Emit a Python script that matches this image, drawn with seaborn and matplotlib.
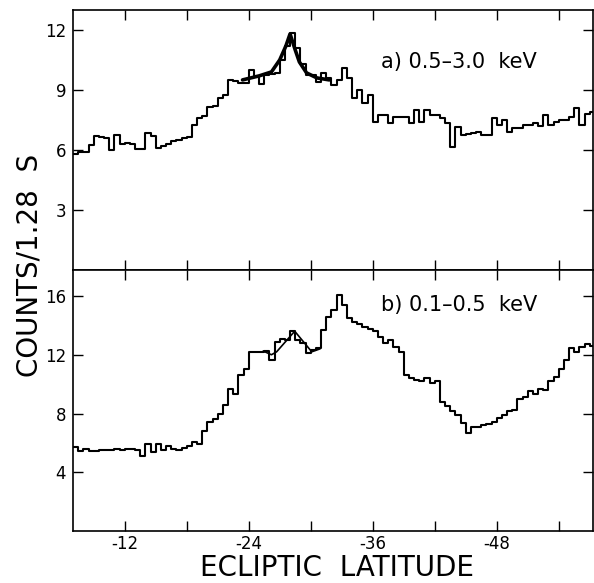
import numpy as np
import pandas as pd
import matplotlib
matplotlib.use("Agg")
import matplotlib.pyplot as plt
import seaborn as sns
from matplotlib.ticker import FixedLocator

# scan binning in ecliptic latitude (deg)
lat_start = -7.0
bin_width = 0.5

# a) 0.5-3.0 keV, counts / 1.28 s per bin
counts_hard = [
    5.8, 5.9, 5.9, 6.25, 6.7, 6.65, 6.6, 6.0, 6.75, 6.3,
    6.35, 6.3, 6.05, 6.05, 6.85, 6.7, 6.1, 6.2, 6.3, 6.45,
    6.5, 6.6, 6.65, 7.25, 7.6, 7.7, 8.15, 8.2, 8.6, 8.75,
    9.5, 9.45, 9.35, 9.35, 10.0, 9.7, 9.3, 9.75, 9.8, 9.85,
    10.5, 11.2, 11.85, 11.1, 10.3, 9.75, 9.75, 9.4, 9.85, 9.6,
    9.25, 9.5, 10.1, 9.6, 8.6, 9.0, 8.35, 8.75, 7.4, 7.75,
    7.75, 7.35, 7.65, 7.65, 7.65, 7.35, 8.0, 7.4, 8.0, 7.75,
    7.75, 7.6, 7.35, 6.15, 7.15, 6.75, 6.8, 6.85, 6.9, 6.75,
    6.75, 7.6, 7.25, 7.5, 6.9, 7.1, 7.1, 7.25, 7.25, 7.35,
    7.2, 7.75, 7.25, 7.4, 7.5, 7.5, 7.65, 8.1, 7.25, 7.8,
    7.9,
]

# b) 0.1-0.5 keV
counts_soft = [
    5.7, 5.45, 5.6, 5.45, 5.45, 5.55, 5.55, 5.55, 5.6, 5.5,
    5.6, 5.6, 5.55, 5.1, 5.95, 5.35, 5.95, 5.5, 5.8, 5.6,
    5.55, 5.65, 5.8, 6.05, 5.95, 6.8, 7.45, 7.65, 8.0, 8.6,
    9.7, 9.35, 10.6, 11.0, 12.2, 12.2, 12.2, 12.25, 11.65, 12.9,
    13.1, 13.0, 13.6, 13.0, 12.8, 12.1, 12.3, 12.45, 13.7, 14.6,
    15.05, 16.05, 15.4, 14.5, 14.2, 14.1, 13.9, 13.75, 13.6, 13.2,
    12.8, 13.0, 12.55, 12.2, 10.65, 10.45, 10.3, 10.2, 10.45, 10.1,
    10.2, 8.8, 8.5, 8.15, 7.9, 7.35, 6.7, 7.1, 7.1, 7.2,
    7.3, 7.45, 7.7, 7.9, 8.15, 8.25, 9.0, 9.1, 9.5, 9.3,
    9.7, 9.6, 10.2, 10.5, 11.0, 11.65, 12.45, 12.2, 12.55, 12.75,
    12.6,
]

# model fits over the source
fit_hard_lat = [-23.4, -25.0, -26.2, -27.0, -27.6, -28.0, -28.5, -28.9, -29.6, -30.6, -31.8]
fit_hard_val = [9.5, 9.7, 9.9, 10.5, 11.2, 11.8, 11.0, 10.4, 9.85, 9.6, 9.5]
fit_soft_lat = [-25.4, -26.2, -26.7, -28.45, -30.1, -30.9]
fit_soft_val = [12.25, 12.0, 12.2, 13.6, 12.2, 12.4]

panel_labels = ["a) 0.5\u20133.0  keV", "b) 0.1\u20130.5  keV"]
yticks_hard = [3, 6, 9, 12]
yticks_soft = [4, 8, 12, 16]
xticks_major = [-12, -24, -36, -48]
xticks_minor = [-18, -30, -42, -54]


def step_frame(counts):
    n = len(counts)
    edges = lat_start - bin_width * np.arange(n + 1)
    vals = list(counts) + [counts[-1]]
    return pd.DataFrame({"lat": edges, "counts": vals})


sns.set_style("ticks")
plt.rcParams["font.family"] = ["DejaVu Sans"]
plt.rcParams["xtick.direction"] = "in"
plt.rcParams["ytick.direction"] = "in"
for k in ["text.color", "axes.labelcolor", "xtick.color", "ytick.color", "axes.edgecolor"]:
    plt.rcParams[k] = "black"

fig = plt.figure(figsize=(5.94, 5.83), dpi=100)
left, right = 0.123, 0.998
ax1 = fig.add_axes([left, 0.537, right - left, 0.983 - 0.537])
ax2 = fig.add_axes([left, 0.089, right - left, 0.537 - 0.089], sharex=ax1)

for ax, counts, flat, fval, fw, yt, ytop, lab, ly in [
    (ax1, counts_hard, fit_hard_lat, fit_hard_val, 2.6, yticks_hard, 13.0, panel_labels[0], 0.80),
    (ax2, counts_soft, fit_soft_lat, fit_soft_val, 1.2, yticks_soft, 17.77, panel_labels[1], 0.866),
]:
    df = step_frame(counts)
    sns.lineplot(data=df, x="lat", y="counts", ax=ax, sort=False,
                 drawstyle="steps-post", color="black", linewidth=1.5,
                 estimator=None)
    fit = pd.DataFrame({"lat": flat, "counts": fval})
    sns.lineplot(data=fit, x="lat", y="counts", ax=ax, sort=False,
                 color="black", linewidth=fw, estimator=None)
    ax.set_ylim(0, ytop)
    ax.yaxis.set_major_locator(FixedLocator(yt))
    ax.set_ylabel("")
    ax.set_xlabel("")
    ax.tick_params(axis="both", which="both", top=True, right=True,
                   length=7, width=1.0, labelsize=12, pad=5)
    for s in ax.spines.values():
        s.set_linewidth(1.2)
    ax.text(0.592, ly, lab, transform=ax.transAxes, fontsize=15,
            va="center", ha="left")

ax1.set_xlim(-7.0, -57.3)
ax2.xaxis.set_major_locator(FixedLocator(xticks_major))
ax2.xaxis.set_minor_locator(FixedLocator(xticks_minor))
ax1.tick_params(axis="x", labelbottom=False)
ax2.set_xticklabels([str(t) for t in xticks_major])
ax2.tick_params(axis="x", pad=3)

fig.text(0.567, 0.025, "ECLIPTIC  LATITUDE", ha="center", va="center", fontsize=20)
fig.text(0.05, 0.545, "COUNTS/1.28  S", ha="center", va="center",
         rotation=90, fontsize=20)

fig.savefig("out.png", dpi=100)
